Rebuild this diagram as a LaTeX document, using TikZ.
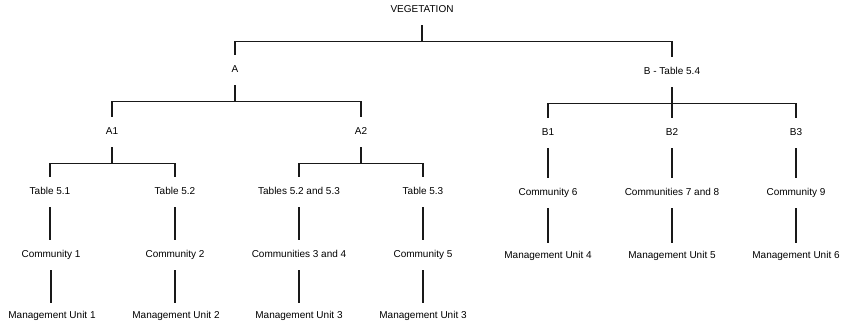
\documentclass[tikz,border=0pt]{standalone}
\usepackage{fontspec}
\setmainfont{Liberation Sans}
\begin{document}
\begin{tikzpicture}[x=1pt,y=-1pt,
  lbl/.style={inner sep=0pt,minimum height=30pt,text height=7.2pt,text depth=2pt,
    font=\fontsize{10}{12}\selectfont,text=black},
  leaf/.style={lbl,minimum height=26pt},
  conn/.style={draw=black!90,line width=1.1pt}]
\useasboundingbox (0,0) rectangle (845,323);
% nodes
\node[lbl] (veg) at (422,10) {VEGETATION};
\node[lbl] (A) at (235,70) {A};
\node[lbl] (B) at (672,72) {B - Table 5.4};
\node[lbl] (A1) at (112,132) {A1};
\node[lbl] (A2) at (361,132) {A2};
\node[lbl] (B1) at (548,133) {B1};
\node[lbl] (B2) at (672,133) {B2};
\node[lbl] (B3) at (796,133) {B3};
\node[lbl] (T51) at (50,192) {Table 5.1};
\node[lbl] (T52) at (175,192) {Table 5.2};
\node[lbl] (T523) at (299,192) {Tables 5.2 and 5.3};
\node[lbl] (T53) at (423,192) {Table 5.3};
\node[lbl] (C6) at (548,193) {Community 6};
\node[lbl] (C78) at (672,193) {Communities 7 and 8};
\node[lbl] (C9) at (796,193) {Community 9};
\node[lbl] (C1) at (51,255) {Community 1};
\node[lbl] (C2) at (175,255) {Community 2};
\node[lbl] (C34) at (299,255) {Communities 3 and 4};
\node[lbl] (C5) at (423,255) {Community 5};
\node[leaf] (MU1) at (52,316) {Management Unit 1};
\node[leaf] (MU2) at (176,316) {Management Unit 2};
\node[leaf] (MU3) at (299,316) {Management Unit 3};
\node[leaf] (MU3b) at (423,316) {Management Unit 3};
\node[leaf] (MU4) at (548,256) {Management Unit 4};
\node[leaf] (MU5) at (672,256) {Management Unit 5};
\node[leaf] (MU6) at (796,256) {Management Unit 6};
% branching connectors
\draw[conn] (veg.south) -- ++(0,16) -| (A.north);
\draw[conn] (veg.south) ++(0,16) -| (B.north);
\draw[conn] (A.south) -- ++(0,16) -| (A1.north);
\draw[conn] (A.south) ++(0,16) -| (A2.north);
\draw[conn] (B.south) -- ++(0,16) -| (B1.north);
\draw[conn] (B.south) ++(0,16) -| (B3.north);
\draw[conn] (B.south) -- (B2.north);
\draw[conn] (A1.south) -- ++(0,16) -| (T51.north);
\draw[conn] (A1.south) ++(0,16) -| (T52.north);
\draw[conn] (A2.south) -- ++(0,16) -| (T523.north);
\draw[conn] (A2.south) ++(0,16) -| (T53.north);
% straight connectors
\draw[conn] (B1) -- (C6);
\draw[conn] (B2) -- (C78);
\draw[conn] (B3) -- (C9);
\draw[conn] (T51) -- (T51 |- C1.north);
\draw[conn] (T52) -- (C2);
\draw[conn] (T523) -- (C34);
\draw[conn] (T53) -- (C5);
\draw[conn] (C1) -- (C1 |- MU1.north);
\draw[conn] (C2) -- (C2 |- MU2.north);
\draw[conn] (C34) -- (MU3);
\draw[conn] (C5) -- (MU3b);
\draw[conn] (C6) -- (MU4);
\draw[conn] (C78) -- (MU5);
\draw[conn] (C9) -- (MU6);
\end{tikzpicture}
\end{document}
